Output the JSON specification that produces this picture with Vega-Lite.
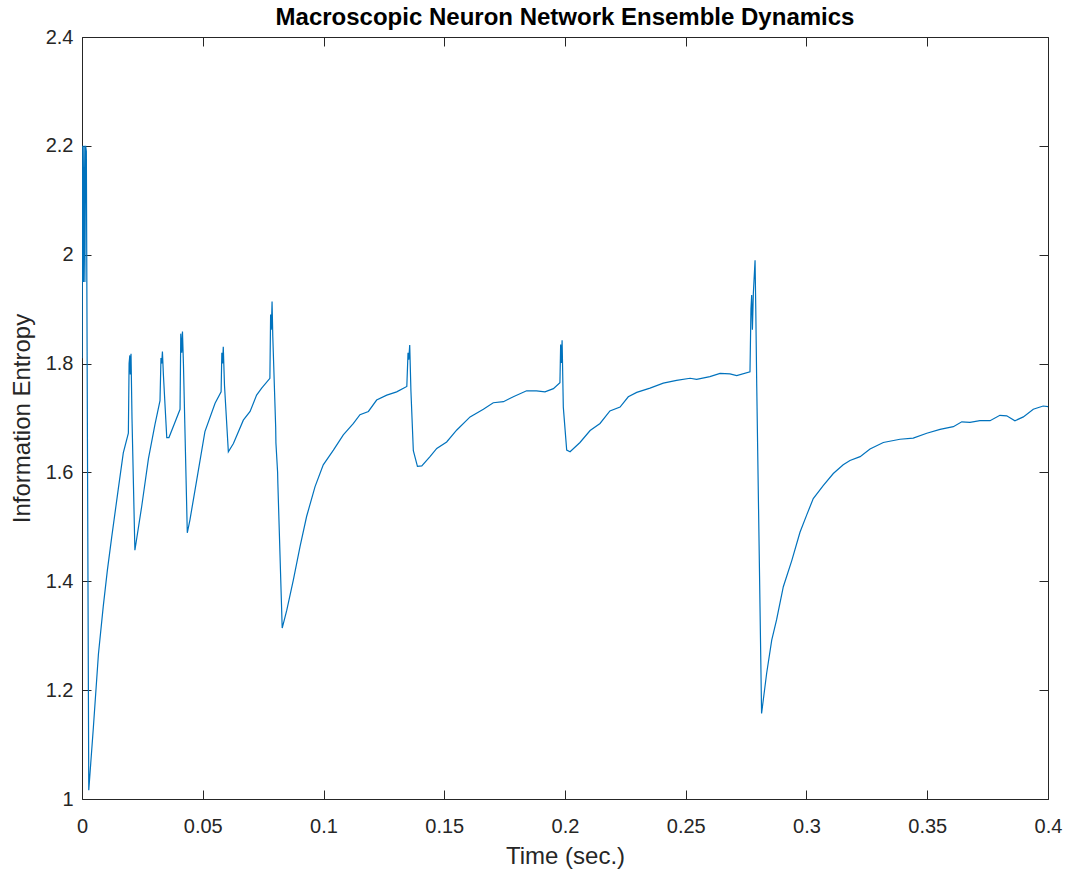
{
  "$schema": "https://vega.github.io/schema/vega-lite/v6.json",
  "width": 966,
  "height": 762,
  "autosize": {"type": "none"},
  "padding": {"left": 82, "top": 37, "right": 20, "bottom": 72},
  "background": "white",
  "config": {
    "font": "Liberation Sans",
    "view": {"stroke": null},
    "axis": {
      "domainColor": "#262626",
      "domainWidth": 1,
      "tickColor": "#262626",
      "tickWidth": 1,
      "tickSize": -9,
      "labelColor": "#262626",
      "labelFont": "Liberation Sans",
      "labelFontSize": 20,
      "labelFlush": false,
      "labelOverlap": false,
      "titleFont": "Liberation Sans",
      "titleFontSize": 24,
      "titleFontWeight": "normal",
      "titleColor": "#262626",
      "grid": false
    }
  },
  "title": {
    "text": "Macroscopic Neuron Network Ensemble Dynamics",
    "fontSize": 24,
    "fontWeight": "bold",
    "color": "#000000",
    "font": "Liberation Sans",
    "offset": -3,
    "anchor": "middle"
  },
  "data": {
    "values": [
      {"t": 0, "v": 1.81},
      {"t": 0.0003, "v": 2.2},
      {"t": 0.0006, "v": 1.95},
      {"t": 0.0009, "v": 2.2},
      {"t": 0.0012, "v": 1.95},
      {"t": 0.0015, "v": 2.2},
      {"t": 0.0018, "v": 2.19},
      {"t": 0.0028, "v": 1.016},
      {"t": 0.0047, "v": 1.131},
      {"t": 0.0068, "v": 1.266},
      {"t": 0.0088, "v": 1.354},
      {"t": 0.0105, "v": 1.42},
      {"t": 0.0123, "v": 1.481},
      {"t": 0.015, "v": 1.569},
      {"t": 0.0171, "v": 1.636},
      {"t": 0.0192, "v": 1.672},
      {"t": 0.0195, "v": 1.8},
      {"t": 0.0198, "v": 1.815},
      {"t": 0.02, "v": 1.78},
      {"t": 0.0203, "v": 1.818},
      {"t": 0.0207, "v": 1.7},
      {"t": 0.0219, "v": 1.457},
      {"t": 0.0247, "v": 1.537},
      {"t": 0.0275, "v": 1.625},
      {"t": 0.0302, "v": 1.688},
      {"t": 0.0323, "v": 1.732},
      {"t": 0.0327, "v": 1.81},
      {"t": 0.033, "v": 1.8},
      {"t": 0.0333, "v": 1.822},
      {"t": 0.0337, "v": 1.78},
      {"t": 0.0351, "v": 1.664},
      {"t": 0.036, "v": 1.664},
      {"t": 0.0383, "v": 1.69},
      {"t": 0.0406, "v": 1.716},
      {"t": 0.0409, "v": 1.855},
      {"t": 0.0413, "v": 1.82},
      {"t": 0.0416, "v": 1.859},
      {"t": 0.042, "v": 1.8},
      {"t": 0.0436, "v": 1.489},
      {"t": 0.0447, "v": 1.513},
      {"t": 0.0475, "v": 1.586},
      {"t": 0.0509, "v": 1.675},
      {"t": 0.0551, "v": 1.727},
      {"t": 0.0576, "v": 1.748},
      {"t": 0.0579, "v": 1.82},
      {"t": 0.0582, "v": 1.8},
      {"t": 0.0585, "v": 1.831},
      {"t": 0.059, "v": 1.76},
      {"t": 0.0606, "v": 1.638},
      {"t": 0.0627, "v": 1.653},
      {"t": 0.0668, "v": 1.696},
      {"t": 0.0696, "v": 1.712},
      {"t": 0.0723, "v": 1.742},
      {"t": 0.0744, "v": 1.755},
      {"t": 0.0778, "v": 1.773},
      {"t": 0.0781, "v": 1.89},
      {"t": 0.0784, "v": 1.862},
      {"t": 0.0787, "v": 1.914},
      {"t": 0.079, "v": 1.85},
      {"t": 0.0802, "v": 1.683},
      {"t": 0.0803, "v": 1.654},
      {"t": 0.081, "v": 1.6},
      {"t": 0.0811, "v": 1.58},
      {"t": 0.0829, "v": 1.314},
      {"t": 0.0848, "v": 1.347},
      {"t": 0.0875, "v": 1.402},
      {"t": 0.0903, "v": 1.464},
      {"t": 0.093, "v": 1.519},
      {"t": 0.0965, "v": 1.574},
      {"t": 0.0999, "v": 1.614},
      {"t": 0.1041, "v": 1.641},
      {"t": 0.1082, "v": 1.669},
      {"t": 0.1124, "v": 1.69},
      {"t": 0.1151, "v": 1.706},
      {"t": 0.1186, "v": 1.712},
      {"t": 0.122, "v": 1.733},
      {"t": 0.1262, "v": 1.742},
      {"t": 0.1303, "v": 1.748},
      {"t": 0.1345, "v": 1.758},
      {"t": 0.135, "v": 1.82},
      {"t": 0.1353, "v": 1.807},
      {"t": 0.1357, "v": 1.834},
      {"t": 0.1362, "v": 1.75},
      {"t": 0.1372, "v": 1.64},
      {"t": 0.1389, "v": 1.611},
      {"t": 0.1407, "v": 1.612},
      {"t": 0.1441, "v": 1.629},
      {"t": 0.1469, "v": 1.644},
      {"t": 0.151, "v": 1.656},
      {"t": 0.1552, "v": 1.678},
      {"t": 0.1607, "v": 1.702},
      {"t": 0.1662, "v": 1.716},
      {"t": 0.1703, "v": 1.728},
      {"t": 0.1745, "v": 1.73},
      {"t": 0.1786, "v": 1.739},
      {"t": 0.1841, "v": 1.75},
      {"t": 0.1882, "v": 1.75},
      {"t": 0.1917, "v": 1.748},
      {"t": 0.1952, "v": 1.754},
      {"t": 0.1979, "v": 1.765},
      {"t": 0.1982, "v": 1.835},
      {"t": 0.1985, "v": 1.801},
      {"t": 0.1988, "v": 1.843},
      {"t": 0.1993, "v": 1.72},
      {"t": 0.2007, "v": 1.641},
      {"t": 0.2021, "v": 1.638},
      {"t": 0.2062, "v": 1.655},
      {"t": 0.2104, "v": 1.677},
      {"t": 0.2145, "v": 1.69},
      {"t": 0.2186, "v": 1.713},
      {"t": 0.2228, "v": 1.72},
      {"t": 0.2262, "v": 1.739},
      {"t": 0.2297, "v": 1.747},
      {"t": 0.2352, "v": 1.755},
      {"t": 0.2407, "v": 1.764},
      {"t": 0.2462, "v": 1.769},
      {"t": 0.2518, "v": 1.773},
      {"t": 0.2545, "v": 1.771},
      {"t": 0.26, "v": 1.776},
      {"t": 0.2642, "v": 1.782},
      {"t": 0.2683, "v": 1.781},
      {"t": 0.2711, "v": 1.778},
      {"t": 0.2766, "v": 1.785},
      {"t": 0.277, "v": 1.9},
      {"t": 0.2773, "v": 1.926},
      {"t": 0.2776, "v": 1.862},
      {"t": 0.278, "v": 1.93},
      {"t": 0.2787, "v": 1.99},
      {"t": 0.279, "v": 1.9},
      {"t": 0.2794, "v": 1.758},
      {"t": 0.2814, "v": 1.157},
      {"t": 0.2835, "v": 1.231},
      {"t": 0.2856, "v": 1.292},
      {"t": 0.2876, "v": 1.329},
      {"t": 0.2904, "v": 1.39},
      {"t": 0.2939, "v": 1.438},
      {"t": 0.2973, "v": 1.49},
      {"t": 0.3001, "v": 1.522},
      {"t": 0.3028, "v": 1.552},
      {"t": 0.307, "v": 1.576},
      {"t": 0.3111, "v": 1.598},
      {"t": 0.3152, "v": 1.614},
      {"t": 0.318, "v": 1.622},
      {"t": 0.3222, "v": 1.629},
      {"t": 0.3263, "v": 1.643},
      {"t": 0.3318, "v": 1.655},
      {"t": 0.3387, "v": 1.661},
      {"t": 0.3442, "v": 1.663},
      {"t": 0.3498, "v": 1.672},
      {"t": 0.3553, "v": 1.679},
      {"t": 0.3608, "v": 1.684},
      {"t": 0.3643, "v": 1.693},
      {"t": 0.3677, "v": 1.692},
      {"t": 0.3718, "v": 1.695},
      {"t": 0.376, "v": 1.695},
      {"t": 0.3801, "v": 1.705},
      {"t": 0.3829, "v": 1.704},
      {"t": 0.3863, "v": 1.695},
      {"t": 0.3898, "v": 1.702},
      {"t": 0.3939, "v": 1.716},
      {"t": 0.398, "v": 1.722},
      {"t": 0.4, "v": 1.721}
    ]
  },
  "layer": [
    {
      "mark": {"type": "line", "color": "#0072BD", "strokeWidth": 1.2, "clip": true},
      "encoding": {
        "x": {
          "field": "t",
          "type": "quantitative",
          "scale": {"domain": [0, 0.4], "nice": false, "zero": false},
          "axis": {
            "orient": "bottom",
            "values": [0, 0.05, 0.1, 0.15, 0.2, 0.25, 0.3, 0.35, 0.4],
            "format": "~g",
            "title": "Time (sec.)",
            "labelPadding": 26,
            "titlePadding": 8
          }
        },
        "y": {
          "field": "v",
          "type": "quantitative",
          "scale": {"domain": [1, 2.4], "nice": false, "zero": false},
          "axis": {
            "orient": "left",
            "values": [1, 1.2, 1.4, 1.6, 1.8, 2, 2.2, 2.4],
            "format": "~g",
            "title": "Information Entropy",
            "labelPadding": 18,
            "titlePadding": 11
          }
        }
      }
    },
    {
      "mark": {"type": "line", "opacity": 0},
      "encoding": {
        "x": {
          "field": "t",
          "type": "quantitative",
          "axis": {
            "orient": "top",
            "values": [0, 0.05, 0.1, 0.15, 0.2, 0.25, 0.3, 0.35, 0.4],
            "labels": false,
            "title": null
          }
        },
        "y": {
          "field": "v",
          "type": "quantitative",
          "axis": {
            "orient": "right",
            "values": [1, 1.2, 1.4, 1.6, 1.8, 2, 2.2, 2.4],
            "labels": false,
            "title": null
          }
        }
      }
    }
  ],
  "resolve": {"axis": {"x": "independent", "y": "independent"}}
}
